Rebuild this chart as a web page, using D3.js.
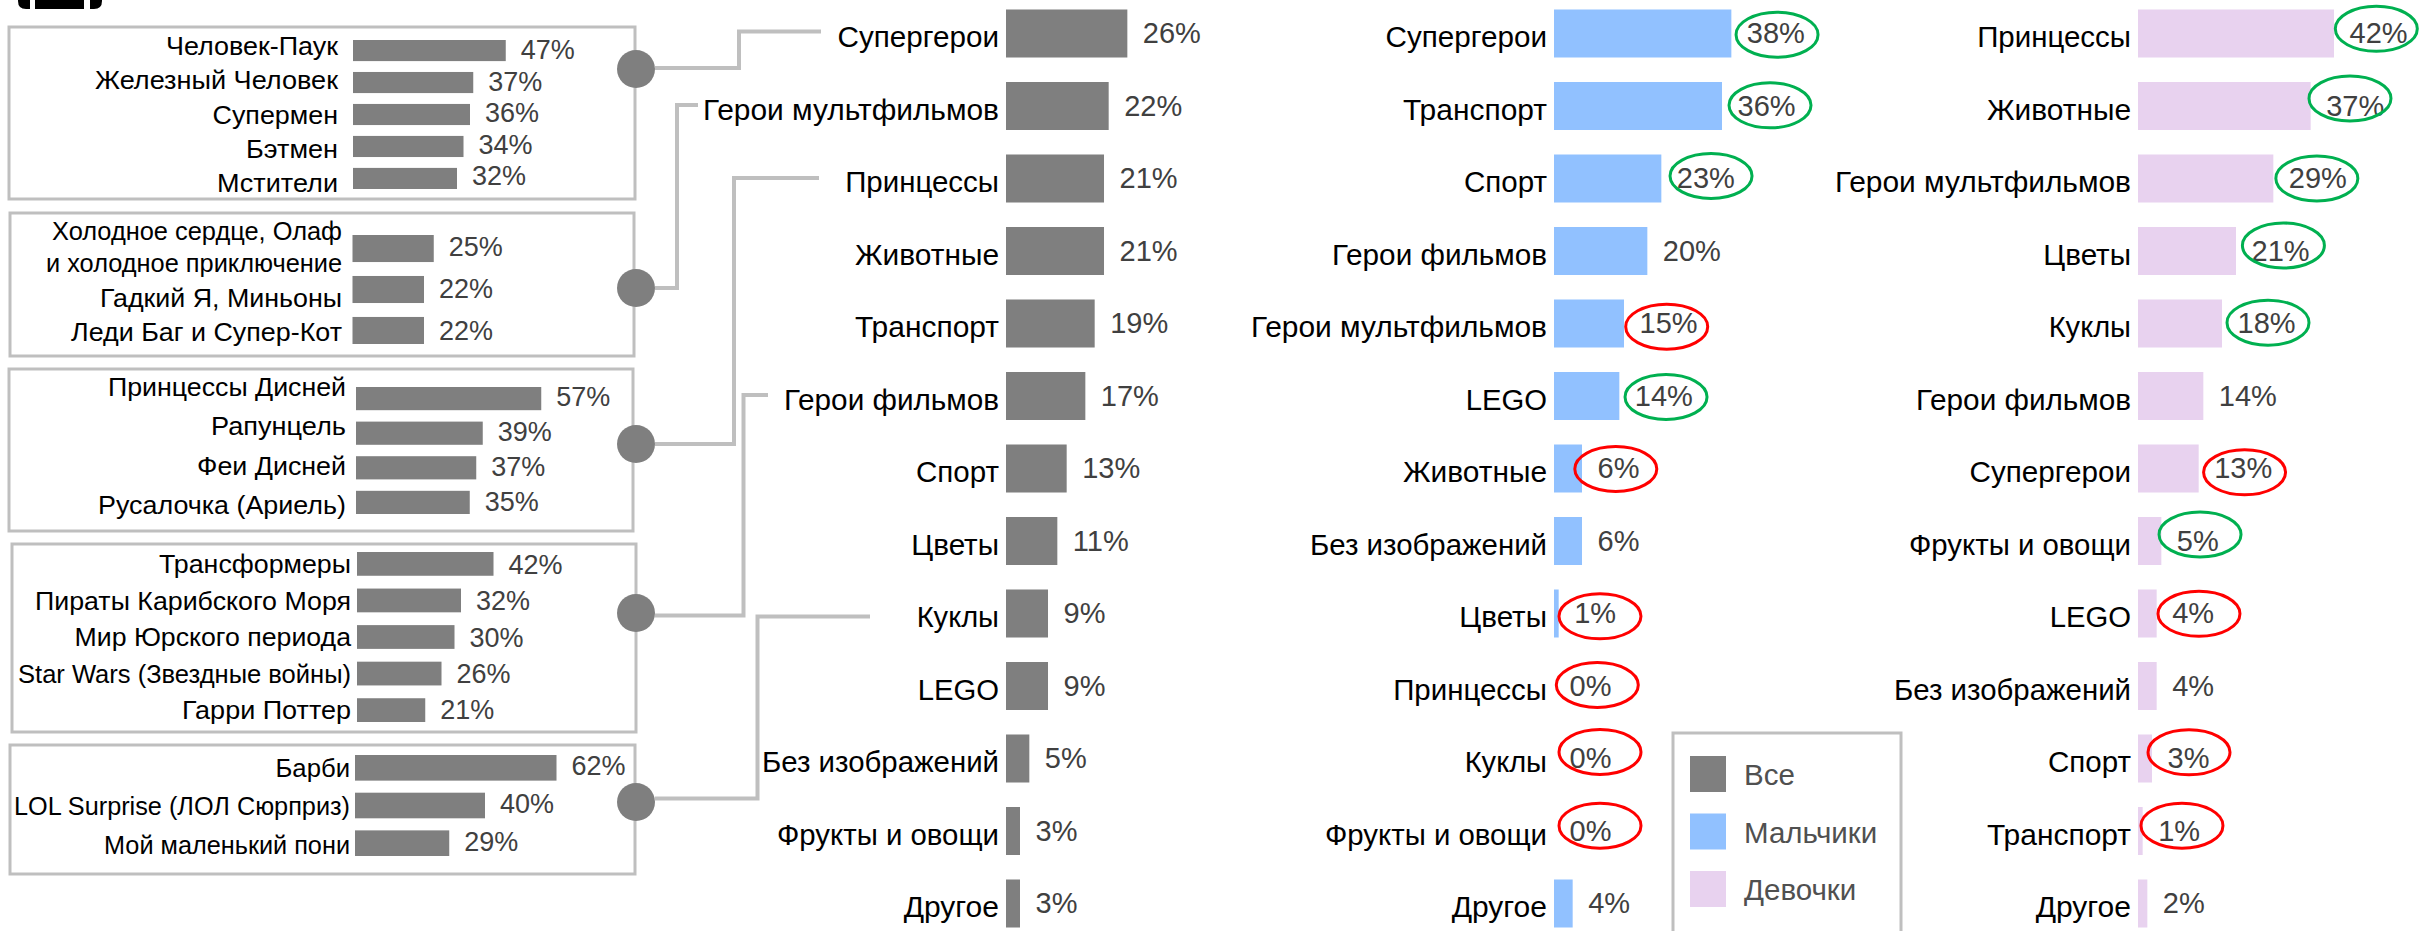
<!DOCTYPE html>
<html>
<head>
<meta charset="utf-8">
<script src="https://cdn.jsdelivr.net/npm/d3@7"></script>
<style>
html,body{margin:0;padding:0;background:#fff;overflow:hidden}
svg{display:block}
text{font-family:"Liberation Sans",Arial,sans-serif}
</style>
</head>
<body>
<div id="chart"></div>
<script>
// ---- data ----
const allCategories = ["Супергерои","Герои мультфильмов","Принцессы","Животные","Транспорт","Герои фильмов","Спорт","Цветы","Куклы","LEGO","Без изображений","Фрукты и овощи","Другое"];
const allValues = [26,22,21,21,19,17,13,11,9,9,5,3,3];
const boysCategories = ["Супергерои","Транспорт","Спорт","Герои фильмов","Герои мультфильмов","LEGO","Животные","Без изображений","Цветы","Принцессы","Куклы","Фрукты и овощи","Другое"];
const boysValues = [38,36,23,20,15,14,6,6,1,0,0,0,4];
const boysMarks = ["g","g","g","","r","g","r","","r","r","r","r",""];
const girlsCategories = ["Принцессы","Животные","Герои мультфильмов","Цветы","Куклы","Герои фильмов","Супергерои","Фрукты и овощи","LEGO","Без изображений","Спорт","Транспорт","Другое"];
const girlsValues = [42,37,29,21,18,14,13,5,4,4,3,1,2];
const girlsMarks = ["g","g","g","g","g","","r","g","r","","r","r",""];
const heroNames = ["Человек-Паук","Железный Человек","Супермен","Бэтмен","Мстители"];
const heroValues = [47,37,36,34,32];
const cartoonNames = ["Холодное сердце, Олаф\nи холодное приключение","Гадкий Я, Миньоны","Леди Баг и Супер-Кот"];
const cartoonValues = [25,22,22];
const princessNames = ["Принцессы Дисней","Рапунцель","Феи Дисней","Русалочка (Ариель)"];
const princessValues = [57,39,37,35];
const movieNames = ["Трансформеры","Пираты Карибского Моря","Мир Юрского периода","Star Wars (Звездные войны)","Гарри Поттер"];
const movieValues = [42,32,30,26,21];
const dollNames = ["Барби","LOL Surprise (ЛОЛ Сюрприз)","Мой маленький пони"];
const dollValues = [62,40,29];
const legendLabels = ["Все","Мальчики","Девочки"];

// ---- layout ----
const W = 2420, H = 931;
const GRAY = "#7f7f7f", BLUE = "#91c1ff", LILAC = "#e8d2ef", BORDER = "#bfbfbf", VALUE = "#404040";
const GREEN = "#00b050", RED = "#ff0000";
// rendered label widths, px
const catWidth = new Map([["Супергерои",159.4],["Герои мультфильмов",294],["Принцессы",151.8],["Животные",142],["Транспорт",142],["Герои фильмов",213],["Спорт",81],["Цветы",85.7],["Куклы",80.3],["LEGO",79.3],["Без изображений",235],["Фрукты и овощи",220],["Другое",93.3]]);
const svg = d3.select("#chart").append("svg").attr("width", W).attr("height", H).attr("viewBox", `0 0 ${W} ${H}`);

// clipped pictogram at the very top-left
svg.append("path").attr("fill", "#000")
  .attr("d", "M18,-2H30V9H26Q18,9 18,1Z M35,-2H84V9H35Z M90,-2H102V1Q102,9 94,9H90Z");

// ---- three main columns ----
const mainY = d3.scaleBand().domain(d3.range(13)).range([9.5, 927.5]).paddingInner(1 - 48 / 72.5).paddingOuter(0);
const mainW = d3.scaleLinear().domain([0, 100]).range([0, 466.7]);

const columns = [
  {cats: allCategories, vals: allValues, x0: 1006, color: GRAY, marks: null, rings: null},
  {cats: boysCategories, vals: boysValues, x0: 1554, color: BLUE, marks: boysMarks,
   rings: [[45.7,1.2],[48,-.7],[49.7,-2.5],null,[42.7,3.2],[46.7,1],[33.8,.5],null,[41.3,2.8],[43.3,-1],[46,-6.5],[46,-5.3],null]},
  {cats: girlsCategories, vals: girlsValues, x0: 2138, color: LILAC, marks: girlsMarks,
   rings: [[42.3,-4.7],[39.3,-7.5],[43.5,0],[47.4,-5.5],[46,-.8],null,[45.9,3.8],[38.7,-6.5],[42.3,.3],null,[37,-6.2],[39.3,-5.3],null]}
];

columns.forEach(c => {
  const g = svg.append("g");
  const rows = c.cats.map((cat, i) => ({cat, v: c.vals[i], i}));
  g.selectAll("rect").data(rows).join("rect")
    .attr("x", c.x0).attr("y", d => mainY(d.i))
    .attr("width", d => mainW(d.v)).attr("height", mainY.bandwidth()).attr("fill", c.color);
  g.selectAll("text.cat").data(rows).join("text").attr("class", "cat")
    .attr("x", c.x0 - 7).attr("y", d => mainY(d.i) + 24 + 13.5)
    .attr("text-anchor", "end").attr("font-size", 29).attr("fill", "#000")
    .attr("textLength", d => catWidth.get(d.cat) + 2).attr("lengthAdjust", "spacingAndGlyphs").text(d => d.cat);
  g.selectAll("text.val").data(rows).join("text").attr("class", "val")
    .attr("x", d => c.x0 + mainW(d.v) + 15.5).attr("y", d => mainY(d.i) + 24 + 9.5)
    .attr("font-size", 29).attr("fill", VALUE).text(d => d.v + "%");
  if (c.marks) {
    g.selectAll("ellipse").data(rows.filter(d => c.marks[d.i])).join("ellipse")
      .attr("cx", d => c.x0 + mainW(d.v) + c.rings[d.i][0])
      .attr("cy", d => mainY(d.i) + 24 + c.rings[d.i][1])
      .attr("rx", 41).attr("ry", 22.5).attr("fill", "none").attr("stroke-width", 3)
      .attr("stroke", d => c.marks[d.i] === "g" ? GREEN : RED);
  }
});

// ---- connectors ----
const stepLine = d3.line();
const connectors = [
  [[655,68],[739,68],[739,31.5],[821,31.5]],
  [[655,288],[677,288],[677,105],[698,105]],
  [[655,444],[734,444],[734,178],[819,178]],
  [[655,615.5],[743.5,615.5],[743.5,395],[768,395]],
  [[655,798.5],[757.5,798.5],[757.5,616.5],[870,616.5]]
];
svg.append("g").selectAll("path").data(connectors).join("path")
  .attr("d", stepLine).attr("fill", "none").attr("stroke", BORDER).attr("stroke-width", 4);

// ---- left detail panels ----
const panelW = d3.scaleLinear().domain([0, 100]).range([0, 325]);
const panels = [
  {names: heroNames, vals: heroValues, widths: [[170],[241],[123.5],[90],[119]], box: [9,27,635,199], x0: 353, bars: [40,189], pad: .34, labelEnd: 337, lab: [55,192], valY: [59,185], dotY: 69},
  {names: cartoonNames, vals: cartoonValues, widths: [[288,294],[240],[269]], box: [10,213,634,356], x0: 352.5, bars: [235,344], pad: .34, labelEnd: 341, lab: [272,341], valY: [256,339.7], dotY: 288},
  {names: princessNames, vals: princessValues, widths: [[236],[133],[147],[246]], box: [9,369,633,531], x0: 356, bars: [387,514], pad: .33, labelEnd: 345, lab: [396,514], valY: [405.7,511], dotY: 444},
  {names: movieNames, vals: movieValues, widths: [[190],[314],[274.5],[331],[167]], box: [12,544,636,732], x0: 357, bars: [552,722], pad: .35, labelEnd: 350, lab: [573,719], valY: [574,719], dotY: 613},
  {names: dollNames, vals: dollValues, widths: [[72.5],[334],[244]], box: [10,745,635,874], x0: 355, bars: [755,856], pad: .32, labelEnd: 349, lab: [776.7,854], valY: [775,851], dotY: 802}
];

panels.forEach(p => {
  const g = svg.append("g");
  const n = p.names.length, rows = p.names.map((name, i) => ({name, v: p.vals[i], i}));
  const by = d3.scaleBand().domain(d3.range(n)).range(p.bars).paddingInner(p.pad).paddingOuter(0);
  const ly = d3.scalePoint().domain(d3.range(n)).range(p.lab);
  const vy = d3.scalePoint().domain(d3.range(n)).range(p.valY);
  g.append("rect").attr("x", p.box[0]).attr("y", p.box[1])
    .attr("width", p.box[2] - p.box[0]).attr("height", p.box[3] - p.box[1])
    .attr("fill", "#fff").attr("stroke", BORDER).attr("stroke-width", 3);
  g.selectAll("rect.bar").data(rows).join("rect").attr("class", "bar")
    .attr("x", p.x0).attr("y", d => by(d.i)).attr("width", d => panelW(d.v)).attr("height", by.bandwidth()).attr("fill", GRAY);
  const lines = rows.flatMap(d => {
    const parts = d.name.split("\n");
    return parts.map((ln, k) => ({ln, y: ly(d.i) - 32 * (parts.length - 1 - k), w: p.widths[d.i][k]}));
  });
  g.selectAll("text.lab").data(lines).join("text").attr("class", "lab")
    .attr("x", p.labelEnd + 1).attr("y", d => d.y)
    .attr("text-anchor", "end").attr("font-size", 26).attr("fill", "#000")
    .attr("textLength", d => d.w + 2).attr("lengthAdjust", "spacingAndGlyphs").text(d => d.ln);
  g.selectAll("text.val").data(rows).join("text").attr("class", "val")
    .attr("x", d => p.x0 + panelW(d.v) + 15).attr("y", d => vy(d.i))
    .attr("font-size", 27).attr("fill", VALUE).text(d => d.v + "%");
});

// dots sit above panels and connectors
svg.append("g").selectAll("circle").data(panels).join("circle")
  .attr("cx", 636).attr("cy", d => d.dotY).attr("r", 19).attr("fill", GRAY);

// ---- legend ----
const legend = svg.append("g");
legend.append("rect").attr("x", 1673).attr("y", 733).attr("width", 228).attr("height", 240)
  .attr("fill", "#fff").attr("stroke", BORDER).attr("stroke-width", 3);
const legendY = d3.scalePoint().domain(legendLabels).range([756, 871]);
const legendColor = d3.scaleOrdinal().domain(legendLabels).range([GRAY, BLUE, LILAC]);
legend.selectAll("rect.sw").data(legendLabels).join("rect").attr("class", "sw")
  .attr("x", 1690).attr("y", d => legendY(d)).attr("width", 36).attr("height", 36).attr("fill", d => legendColor(d));
legend.selectAll("text").data(legendLabels).join("text")
  .attr("x", 1744).attr("y", d => legendY(d) + 29).attr("font-size", 29.5).attr("fill", "#505050").text(d => d);
</script>
</body>
</html>
